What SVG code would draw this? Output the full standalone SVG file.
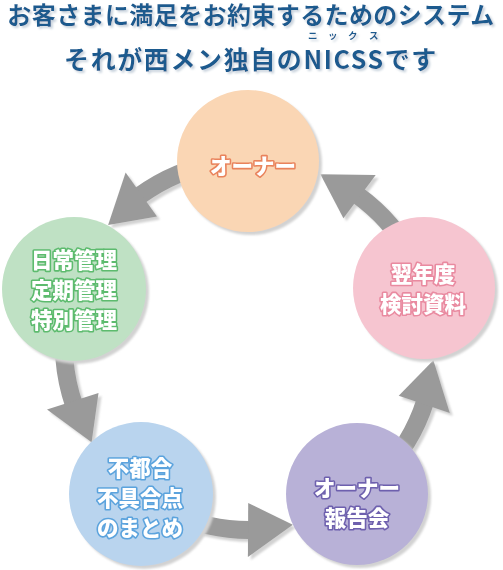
<svg xmlns="http://www.w3.org/2000/svg" width="503" height="570" viewBox="0 0 503 570">
<style>
.title{font-family:"Noto Sans CJK JP","Noto Sans",sans-serif;font-weight:700;fill:#1b5a8e;}
.ruby{font-family:"Noto Sans CJK JP",sans-serif;font-weight:700;font-size:9.5px;fill:#1b5a8e;}
.lbl{font-family:"Noto Sans CJK JP",sans-serif;font-weight:900;font-size:21.5px;fill:#fff;stroke-width:3.2px;stroke-linejoin:round;paint-order:stroke;text-anchor:middle;}
.shaft{fill:none;stroke:#9a9a9a;stroke-width:18;}
.head{fill:#9a9a9a;}
</style>
<defs>
<filter id="ts" x="-5%" y="-20%" width="110%" height="150%">
<feGaussianBlur in="SourceAlpha" stdDeviation="0.8"/>
<feOffset dx="1.5" dy="2" result="o"/>
<feFlood flood-color="#c9d3dd"/>
<feComposite in2="o" operator="in"/>
<feMerge><feMergeNode/><feMergeNode in="SourceGraphic"/></feMerge>
</filter>
<filter id="sh" x="-10%" y="-10%" width="125%" height="125%">
<feGaussianBlur in="SourceAlpha" stdDeviation="1.2"/>
<feOffset dx="3" dy="3" result="o"/>
<feFlood flood-color="#d2d2d2"/>
<feComposite in2="o" operator="in"/>
<feMerge><feMergeNode/><feMergeNode in="SourceGraphic"/></feMerge>
</filter>
</defs>
<rect width="503" height="570" fill="#fff"/>
<g id="title" filter="url(#ts)">
<text class="title" x="251" y="24" font-size="24" letter-spacing="0.4" text-anchor="middle">お客さまに満足をお約束するためのシステム</text>
<text class="title" x="251" y="69" font-size="25" letter-spacing="1.6" text-anchor="middle">それが西メン独自のNICSSです</text>
<text class="ruby" x="308 328 348 369" y="39">ニックス</text>
</g>
<g id="connectors" filter="url(#sh)">
<path class="shaft" d="M216.9 162.8 A185 185 0 0 0 140.3 195.3"/>
<polygon class="head" points="108.1,225.1 157.0,216.5 125.6,172.6"/>
<path class="shaft" d="M416.7 266.8 A185 185 0 0 0 357.7 195.3"/>
<polygon class="head" points="320.4,174.3 343.4,218.3 375.7,175.0"/>
<path class="shaft" d="M66.8 312.9 A185 185 0 0 0 74.1 405.2"/>
<polygon class="head" points="91.6,442.2 98.5,393.0 47.0,409.4"/>
<path class="shaft" d="M170.8 512.7 A185 185 0 0 0 252.2 530.0"/>
<polygon class="head" points="292.8,524.7 248.2,503.0 247.9,557.0"/>
<path class="shaft" d="M379.8 475.8 A185 185 0 0 0 425.2 401.2"/>
<polygon class="head" points="433.4,360.2 398.7,395.7 449.8,413.0"/>
</g>
<g id="owner" filter="url(#sh)">
<circle cx="248" cy="161" r="71" fill="#fad6b4"/>
<text class="lbl" x="253" y="174" stroke="#e9835c">オーナー</text>
</g>
<g id="management" filter="url(#sh)">
<circle cx="74" cy="289" r="72" fill="#bfe1c4"/>
<text class="lbl" x="74" y="268" stroke="#5dbb6e">日常管理</text>
<text class="lbl" x="74" y="298" stroke="#5dbb6e">定期管理</text>
<text class="lbl" x="74" y="328" stroke="#5dbb6e">特別管理</text>
</g>
<g id="nextyear" filter="url(#sh)">
<circle cx="424" cy="288" r="71" fill="#f6c5d0"/>
<text class="lbl" x="423" y="282" stroke="#e98aa0">翌年度</text>
<text class="lbl" x="423" y="312" stroke="#e98aa0">検討資料</text>
</g>
<g id="defects" filter="url(#sh)">
<circle cx="141" cy="494" r="72" fill="#b9d4ee"/>
<text class="lbl" x="140" y="476" stroke="#5ba3dd">不都合</text>
<text class="lbl" x="140" y="506" stroke="#5ba3dd">不具合点</text>
<text class="lbl" x="140" y="536" stroke="#5ba3dd">のまとめ</text>
</g>
<g id="report" filter="url(#sh)">
<circle cx="357" cy="494" r="71" fill="#b8b1d7"/>
<text class="lbl" x="357" y="496" stroke="#6e61ae">オーナー</text>
<text class="lbl" x="357" y="526" stroke="#6e61ae">報告会</text>
</g>
</svg>
